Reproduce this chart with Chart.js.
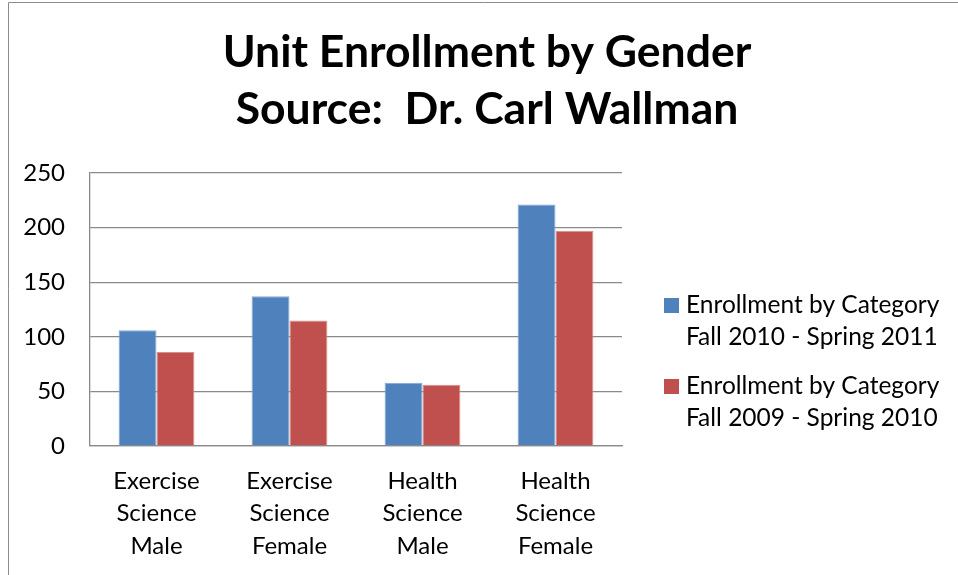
<!DOCTYPE html>
<html>
<head>
<meta charset="utf-8">
<script src="https://cdn.jsdelivr.net/npm/chart.js@4"></script>
<style>
  html, body { margin: 0; padding: 0; background: #fff; overflow: hidden; }
  #wrap { position: relative; width: 958px; height: 575px; }
</style>
</head>
<body>
<div id="wrap"><canvas id="enrollChart"></canvas></div>
<script>
const categories = [
  ['Exercise', 'Science', 'Male'],
  ['Exercise', 'Science', 'Female'],
  ['Health', 'Science', 'Male'],
  ['Health', 'Science', 'Female']
];
const fall2010 = [106, 137, 58, 221];
const fall2009 = [86, 115, 56, 197];
const seriesNames = [
  ['Enrollment by Category', 'Fall 2010 - Spring 2011'],
  ['Enrollment by Category', 'Fall 2009 - Spring 2010']
];
const yTicks = [0, 50, 100, 150, 200, 250];
const titleLines = ['Unit Enrollment by Gender', 'Source:  Dr. Carl Wallman'];

const FONT = "Lato, Carlito, Calibri, sans-serif";
const GRID = '#8a8a8a';

// outer frame of the chart object (cut off on right and bottom)
const framePlugin = {
  id: 'frame',
  beforeDraw(chart) {
    const ctx = chart.ctx;
    ctx.save();
    ctx.strokeStyle = '#8c8c8c';
    ctx.lineWidth = 1;
    ctx.beginPath();
    ctx.moveTo(8.5, 575);
    ctx.lineTo(8.5, 2.5);
    ctx.lineTo(958, 2.5);
    ctx.stroke();
    ctx.restore();
  }
};

// legend drawn by hand so the two-line labels sit like the original
const legendPlugin = {
  id: 'sideLegend',
  afterDraw(chart) {
    const ctx = chart.ctx;
    ctx.save();
    ctx.font = '24.5px ' + FONT;
    ctx.textBaseline = 'middle';
    chart.data.datasets.forEach((ds, i) => {
      const y0 = 305 + i * 81;
      ctx.fillStyle = ds.backgroundColor;
      ctx.fillRect(664, y0 - 7, 15, 15);
      ctx.fillStyle = '#000';
      seriesNames[i].forEach((line, j) => {
        ctx.fillText(line, 686, y0 + j * 32);
      });
    });
    ctx.restore();
  }
};

new Chart(document.getElementById('enrollChart'), {
  type: 'bar',
  data: {
    labels: categories,
    datasets: [
      {
        label: seriesNames[0].join(' '),
        data: fall2010,
        backgroundColor: '#4F81BD',
        borderColor: '#86a8d4',
        borderWidth: 1
      },
      {
        label: seriesNames[1].join(' '),
        data: fall2009,
        backgroundColor: '#C0504D',
        borderColor: '#d88e8c',
        borderWidth: 1
      }
    ]
  },
  options: {
    responsive: true,
    maintainAspectRatio: false,
    animation: false,
    datasets: {
      bar: { categoryPercentage: 0.57, barPercentage: 1.0 }
    },
    layout: { padding: { left: 16, right: 0, top: 0, bottom: 0 } },
    scales: {
      y: {
        min: 0,
        max: 250,
        afterBuildTicks(scale) {
          scale.ticks = yTicks.map(v => ({ value: v }));
        },
        afterFit(scale) { scale.width = 74; },
        ticks: { font: { family: FONT, size: 24 }, color: '#000', padding: 25 },
        grid: { color: GRID, lineWidth: 1.3, drawTicks: false },
        border: { color: GRID, width: 1.3 }
      },
      // empty axis on the right that keeps room for the legend
      legendSpace: {
        position: 'right',
        afterFit(scale) { scale.width = 336; },
        ticks: { display: false },
        grid: { display: false, drawTicks: false },
        border: { display: false }
      },
      x: {
        afterFit(scale) { scale.height = 129; },
        ticks: {
          font: { family: FONT, size: 24, lineHeight: 1.35 },
          color: '#000',
          padding: 19,
          maxRotation: 0
        },
        grid: { display: false, drawTicks: false },
        border: { color: GRID, width: 1.3 }
      }
    },
    plugins: {
      legend: { display: false },
      tooltip: { enabled: false },
      title: {
        display: true,
        text: titleLines,
        color: '#000',
        font: { family: FONT, size: 44.5, weight: 'bold', lineHeight: 1.28 },
        padding: { top: 24, bottom: 35 }
      }
    }
  },
  plugins: [framePlugin, legendPlugin]
});
</script>
</body>
</html>
